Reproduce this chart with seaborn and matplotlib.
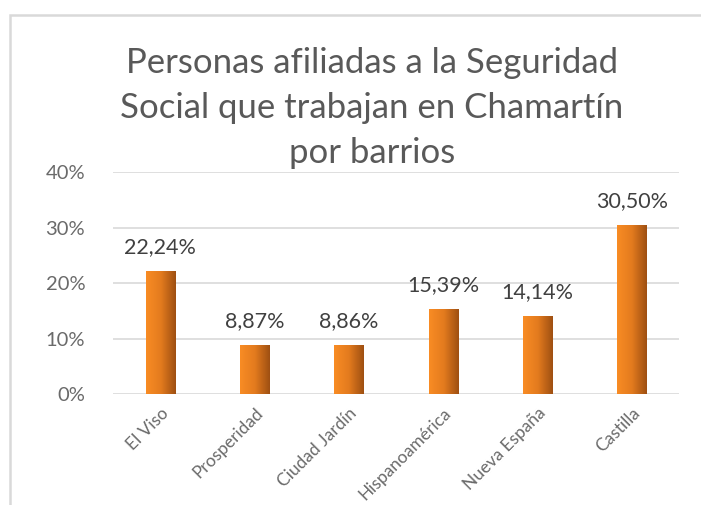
import seaborn as sns
import matplotlib.pyplot as plt
import numpy as np
import pandas as pd
from matplotlib.patches import Rectangle
from matplotlib.colors import LinearSegmentedColormap

barrios = ['El Viso', 'Prosperidad', 'Ciudad Jardín', 'Hispanoamérica', 'Nueva España', 'Castilla']
porcentajes = [22.24, 8.87, 8.86, 15.39, 14.14, 30.50]
etiquetas = ['22,24%', '8,87%', '8,86%', '15,39%', '14,14%', '30,50%']
yticks = [0, 10, 20, 30, 40]
titulo = ['Personas afiliadas a la Seguridad', 'Social que trabajan en Chamartín', 'por barrios']

df = pd.DataFrame({'barrio': barrios, 'pct': porcentajes})

sns.set_style('white')
plt.rcParams['font.family'] = ['Lato', 'DejaVu Sans']

fig = plt.figure(figsize=(7.01, 5.05), dpi=100)
ax = fig.add_axes([113/701, 1-394/505, (679-113)/701, (394-172)/505])

sns.barplot(data=df, x='barrio', y='pct', color='#E87A1E', width=0.31, ax=ax, saturation=1)

# orange gradient on the bars
grad = LinearSegmentedColormap.from_list('naranja', ['#F98C24', '#E37B1E', '#9E4F12'])
g = np.linspace(0, 1, 256).reshape(1, -1)
for p in ax.patches:
    x0, y0 = p.get_x(), p.get_y()
    w, h = p.get_width(), p.get_height()
    im = ax.imshow(g, cmap=grad, aspect='auto', extent=[x0, x0 + w, y0, y0 + h], zorder=3)
    im.set_clip_path(p)
    p.set_facecolor('none')
    p.set_edgecolor('none')

ax.set_xlim(-0.5, len(barrios) - 0.5)
ax.set_ylim(0, 40)
ax.set_yticks(yticks)
ax.set_yticklabels([f'{t}%' for t in yticks], fontsize=14.5, color='#6A6A6A')
ax.yaxis.grid(True, color='#D9D9D9', linewidth=1.2)
ax.set_axisbelow(True)
for s in ax.spines.values():
    s.set_visible(False)
ax.tick_params(axis='both', length=0)
ax.tick_params(axis='y', pad=20)
ax.set_xlabel('')
ax.set_ylabel('')
ax.set_xticks(range(len(barrios)))
ax.set_xticklabels(barrios, rotation=45, ha='right', rotation_mode='anchor',
                   fontsize=12.5, color='#6A6A6A')
ax.tick_params(axis='x', pad=8)

for i, (v, lab) in enumerate(zip(porcentajes, etiquetas)):
    ax.annotate(lab, (i, v), xytext=(0, 10), textcoords='offset points',
                ha='center', va='bottom', fontsize=15.5, color='#404040')

for k, line in enumerate(titulo):
    fig.text(372/701, 1 - (63 + 45*k)/505, line, ha='center', va='center',
             fontsize=25, color='#595959')

fig.patches.append(Rectangle((10/701, -0.1), 1.2, 1 - 15/505 + 0.1,
                             transform=fig.transFigure, fill=False,
                             edgecolor='#D9D9D9', linewidth=1.8))

fig.savefig('out.png', dpi=100)
